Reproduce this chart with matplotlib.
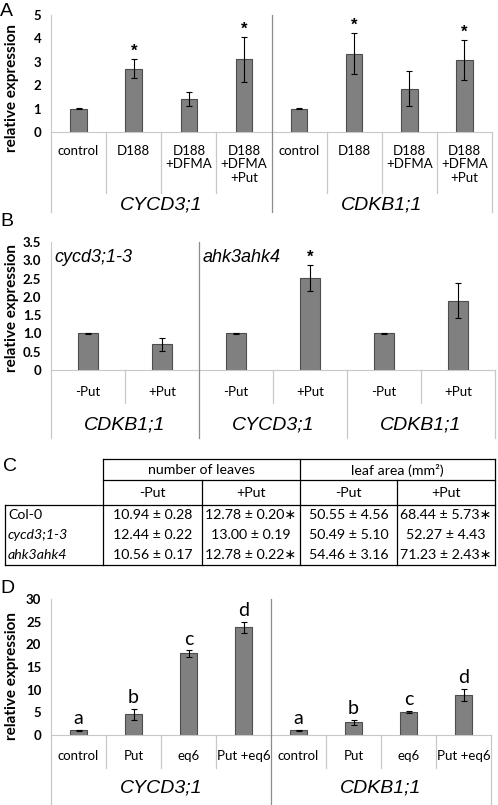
import matplotlib
matplotlib.use("Agg")
import matplotlib.pyplot as plt
import matplotlib.transforms as mtransforms
from matplotlib.lines import Line2D

# panel A: expression after D188 / DFMA / Put
a_labels = ["control", "D188", "D188\n+DFMA", "D188\n+DFMA\n+Put"] * 2
a_genes = ["CYCD3;1", "CDKB1;1"]
a_values = [1.0, 2.7, 1.4, 3.1, 1.0, 3.35, 1.85, 3.07]
a_errors = [0.02, 0.4, 0.3, 0.95, 0.02, 0.88, 0.75, 0.85]
a_stars = ["", "*", "", "*", "", "*", "", "*"]
a_ticks = [0, 1, 2, 3, 4, 5]
a_ticklabels = ["0", "1", "2", "3", "4", "5"]

# panel B: mutants +/- Put
b_labels = ["-Put", "+Put"] * 3
b_genes = ["CDKB1;1", "CYCD3;1", "CDKB1;1"]
b_lines = ["cycd3;1-3", "ahk3ahk4"]
b_values = [1.0, 0.7, 1.0, 2.52, 1.0, 1.9]
b_errors = [0.01, 0.17, 0.01, 0.35, 0.01, 0.47]
b_stars = ["", "", "", "*", "", ""]
b_ticks = [0, 0.5, 1.0, 1.5, 2.0, 2.5, 3.0, 3.5]
b_ticklabels = ["0", "0.5", "1.0", "1.5", "2.0", "2.5", "3.0", "3.5"]

# panel C: table
c_lines = ["Col-0", "cycd3;1-3", "ahk3ahk4"]
c_groups = ["number of leaves", "leaf area (mm\u00b2)"]
c_treat = ["-Put", "+Put"]
leaves_minus = [10.94, 12.44, 10.56]
leaves_minus_se = [0.28, 0.22, 0.17]
leaves_plus = [12.78, 13.00, 12.78]
leaves_plus_se = [0.20, 0.19, 0.22]
area_minus = [50.55, 50.49, 54.46]
area_minus_se = [4.56, 5.10, 3.16]
area_plus = [68.44, 52.27, 71.23]
area_plus_se = [5.73, 4.43, 2.43]
plus_sig = [True, False, True]

# panel D: Put / eq6
d_labels = ["control", "Put", "eq6", "Put +eq6"] * 2
d_genes = ["CYCD3;1", "CDKB1;1"]
d_values = [1.0, 4.6, 18.0, 23.8, 1.0, 2.8, 5.1, 8.8]
d_errors = [0.1, 1.2, 0.7, 1.2, 0.1, 0.5, 0.2, 1.3]
d_letters = ["a", "b", "c", "d", "a", "b", "c", "d"]
d_ticks = [0, 5, 10, 15, 20, 25, 30]
d_ticklabels = ["0", "5", "10", "15", "20", "25", "30"]

W, H = 498, 805
BODY = "Lato"
ARIAL = "Liberation Sans"
LIGHT = "#c8c8c8"
DARK = "#8c8c8c"
BAR = "#808080"
BAR_EDGE = "#4d4d4d"

fig = plt.figure(figsize=(W / 100, H / 100), dpi=100)


def fy(y):
    return 1 - y / H


def make_axes(left, top, right, bottom):
    return fig.add_axes([left / W, 1 - bottom / H, (right - left) / W, (bottom - top) / H])


def vline(trans, x, y0, y1, color, lw=0.9):
    fig.add_artist(Line2D([x, x], [fy(y0), fy(y1)], transform=trans, color=color, lw=lw))


def bar_panel(box, values, errors, ylim, ticks, ticklabels, labels, width,
              cat_y, tick_end, group_size, genes, gene_y, line_end, group_from_top):
    left, top, right, bottom = box
    ax = make_axes(left, top, right, bottom)
    n = len(values)
    x = list(range(n))
    ax.bar(x, values, width=width, color=BAR, edgecolor=BAR_EDGE, lw=0.8, zorder=2)
    ax.errorbar(x, values, yerr=errors, fmt="none", ecolor="black", elinewidth=0.8,
                capsize=2, capthick=0.8, zorder=3)
    ax.set_xlim(-0.5, n - 0.5)
    ax.set_ylim(*ylim)
    ax.set_yticks(ticks)
    ax.set_yticklabels(ticklabels, fontfamily=BODY, fontweight="bold", fontsize=9.5)
    ax.tick_params(axis="y", length=0, pad=7)
    ax.tick_params(axis="x", length=0, labelbottom=False)
    for s in ["top", "right"]:
        ax.spines[s].set_visible(False)
    ax.spines["left"].set_color(LIGHT)
    ax.spines["bottom"].set_color(LIGHT)
    ax.patch.set_alpha(0)

    trans = mtransforms.blended_transform_factory(ax.transData, fig.transFigure)
    for i, lab in enumerate(labels):
        ax.text(i, fy(cat_y), lab, transform=trans, ha="center", va="top",
                fontfamily=BODY, fontsize=9.5, linespacing=1.15)
    # boundaries between categories
    for i in range(n + 1):
        xb = i - 0.5
        if i == 0 or i == n:
            vline(trans, xb, bottom, line_end, LIGHT)
        elif i % group_size == 0:
            g = i // group_size
            if g in group_from_top:
                vline(trans, xb, top, line_end, DARK)
            else:
                vline(trans, xb, bottom, line_end, LIGHT)
        else:
            vline(trans, xb, bottom, tick_end, LIGHT)
    for g, gene in enumerate(genes):
        xc = g * group_size + (group_size - 1) / 2
        ax.text(xc, fy(gene_y), gene, transform=trans, ha="center", va="center",
                fontfamily=ARIAL, fontstyle="italic", fontsize=14)
    return ax, trans


def ylabel(y):
    fig.text(12 / W, fy(y), "relative expression", rotation=90, ha="center", va="center",
             fontfamily=BODY, fontweight="bold", fontsize=11)


def panel_letter(x, y, s):
    fig.text(x / W, fy(y), s, ha="left", va="center", fontfamily=ARIAL, fontsize=14)


# ---- A ----
ax, tr = bar_panel((51, 15, 492, 132), a_values, a_errors, (0, 5), a_ticks, a_ticklabels,
                   a_labels, 0.3, 145, 193, 4, a_genes, 205, 212, [1])
for i, (v, e, s) in enumerate(zip(a_values, a_errors, a_stars)):
    if s:
        ax.text(i, v + e + 0.03, s, ha="center", va="bottom", fontfamily=ARIAL,
                fontsize=12, fontweight="bold")
ylabel(88)
panel_letter(0, 12, "A")

# ---- B ----
ax, tr = bar_panel((51, 242, 495, 370), b_values, b_errors, (0, 3.5), b_ticks, b_ticklabels,
                   b_labels, 0.27, 386, 403, 2, b_genes, 425, 438, [1])
for i, (v, e, s) in enumerate(zip(b_values, b_errors, b_stars)):
    if s:
        ax.text(i, v + e + 0.02, s, ha="center", va="bottom", fontfamily=ARIAL,
                fontsize=12, fontweight="bold")
ax.text(-0.45, fy(257), b_lines[0], transform=tr, ha="left", va="center",
        fontfamily=ARIAL, fontstyle="italic", fontsize=13)
ax.text(1.55, fy(257), b_lines[1], transform=tr, ha="left", va="center",
        fontfamily=ARIAL, fontstyle="italic", fontsize=13)
ylabel(308)
panel_letter(0, 222, "B")

# ---- C (table) ----
panel_letter(3, 466, "C")
tf = fig.transFigure
cols = [5, 103, 202, 300, 397, 495]


def hline(x0, x1, y):
    fig.add_artist(Line2D([x0 / W, x1 / W], [fy(y), fy(y)], transform=tf, color="black", lw=0.9))


def tline(x, y0, y1):
    fig.add_artist(Line2D([x / W, x / W], [fy(y0), fy(y1)], transform=tf, color="black", lw=0.9))


hline(cols[1], cols[5], 459)
hline(cols[1], cols[5], 480)
hline(cols[0], cols[5], 505)
hline(cols[0], cols[5], 565)
tline(cols[0], 505, 565)
tline(cols[1], 459, 565)
tline(cols[2], 480, 565)
tline(cols[3], 459, 565)
tline(cols[4], 480, 565)
tline(cols[5], 459, 565)

tk = dict(ha="center", va="center", fontfamily=[BODY, "DejaVu Sans"], fontsize=10.2)
for g, name in enumerate(c_groups):
    xc = (cols[1 + 2 * g] + cols[3 + 2 * g]) / 2
    fig.text(xc / W, fy(470), name, **tk)
    for t, tname in enumerate(c_treat):
        xt = (cols[1 + 2 * g + t] + cols[2 + 2 * g + t]) / 2
        fig.text(xt / W, fy(492.5), tname, **tk)

row_y = [515, 535, 555]
columns = [(leaves_minus, leaves_minus_se, False), (leaves_plus, leaves_plus_se, True),
           (area_minus, area_minus_se, False), (area_plus, area_plus_se, True)]
for r, line in enumerate(c_lines):
    fig.text(8 / W, fy(row_y[r]), line, ha="left", va="center", fontfamily=BODY, fontsize=10.2,
             fontstyle="normal" if r == 0 else "italic")
    for c, (m, se, starred) in enumerate(columns):
        txt = f"{m[r]:.2f} \u00b1 {se[r]:.2f}"
        if starred and plus_sig[r]:
            txt += "\u2217"
        xc = (cols[1 + c] + cols[2 + c]) / 2
        fig.text(xc / W, fy(row_y[r]), txt, **tk)

# ---- D ----
ax, tr = bar_panel((51, 599, 491, 735), d_values, d_errors, (0, 30), d_ticks, d_ticklabels,
                   d_labels, 0.3, 750, 768, 4, d_genes, 788, 805, [1])
for i, (v, e, s) in enumerate(zip(d_values, d_errors, d_letters)):
    ax.text(i, v + e + 0.6, s, ha="center", va="bottom", fontfamily=BODY, fontsize=14)
ylabel(676)
panel_letter(0, 588, "D")

fig.savefig("out.png", dpi=100)
